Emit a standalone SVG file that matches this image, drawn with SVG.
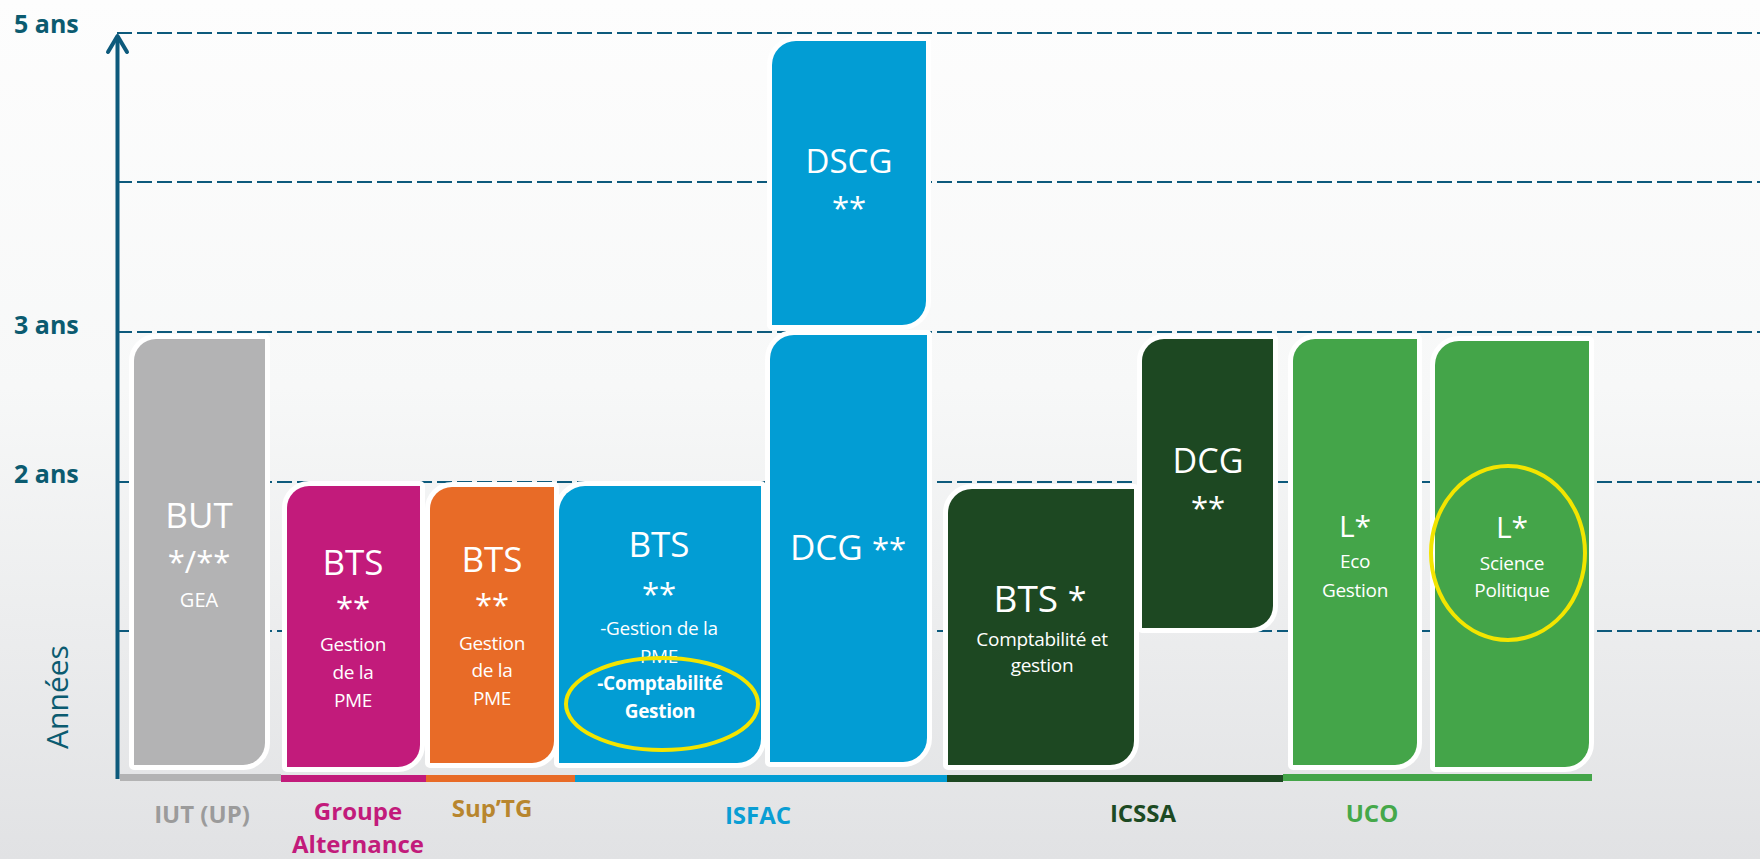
<svg xmlns="http://www.w3.org/2000/svg" width="1760" height="859" viewBox="0 0 1760 859">
<defs>
<linearGradient id="bg" x1="0" y1="0" x2="0" y2="1">
<stop offset="0" stop-color="#fdfdfd"/>
<stop offset="0.45" stop-color="#f7f8f8"/>
<stop offset="1" stop-color="#e1e2e4"/>
</linearGradient>
<clipPath id="pmeclip"><rect x="590" y="640" width="140" height="23"/></clipPath>
</defs>
<style>
.grid{stroke:#0d5a7c;stroke-width:2;stroke-dasharray:15 5;fill:none}
.box{stroke:#fff;stroke-width:10;paint-order:stroke;stroke-linejoin:round}
.t{font-family:"Open Sans","Noto Sans",sans-serif;fill:#fff;text-anchor:middle}
.big{font-size:35px}
.st{font-size:31px}
.sm{font-size:19px;letter-spacing:-0.3px}
.bold{font-weight:bold}
.ax{font-family:"Open Sans","Noto Sans",sans-serif;font-weight:bold;font-size:25px;fill:#0b5b70}
.lab{font-family:"Open Sans","Noto Sans",sans-serif;font-weight:bold;font-size:24px;text-anchor:middle}
.hl{fill:none;stroke:#f3e500;stroke-width:4}
</style>
<rect x="0" y="0" width="1760" height="859" fill="url(#bg)"/>

<g id="grid">
<line class="grid" x1="117" y1="33" x2="1760" y2="33"/>
<line class="grid" x1="117" y1="182" x2="1760" y2="182"/>
<line class="grid" x1="117" y1="332" x2="1760" y2="332"/>
<line class="grid" x1="117" y1="482" x2="1760" y2="482"/>
<line class="grid" x1="117" y1="631" x2="1760" y2="631"/>
</g>

<g id="axis-labels">
<text class="ax" x="14" y="33">5 ans</text>
<text class="ax" x="14" y="334">3 ans</text>
<text class="ax" x="14" y="483">2 ans</text>
<text font-family="Open Sans, Noto Sans, sans-serif" font-size="30" fill="#0b5b70" text-anchor="middle" transform="translate(68 697) rotate(-90)">Années</text>
</g>

<g id="node-but">
<path class="box" fill="#b3b3b4" d="M156 339 H265 V743 A22 22 0 0 1 243 765 H134 V361 A22 22 0 0 1 156 339 Z"/>
<text class="t big" x="199" y="528">BUT</text>
<text class="t st" x="199" y="573">*/**</text>
<text class="t" font-size="20" x="199" y="607">GEA</text>
</g>

<g id="node-bts-groupe">
<path class="box" fill="#c21b7b" d="M309 486 H420 V745 A22 22 0 0 1 398 767 H287 V508 A22 22 0 0 1 309 486 Z"/>
<text class="t big" x="353" y="575">BTS</text>
<text class="t st" x="353" y="619">**</text>
<text class="t sm" x="353" y="651">Gestion</text>
<text class="t sm" x="353" y="679">de la</text>
<text class="t sm" x="353" y="707">PME</text>
</g>

<g id="node-bts-suptg">
<path class="box" fill="#e86b27" d="M452 487 H554 V741 A22 22 0 0 1 532 763 H430 V509 A22 22 0 0 1 452 487 Z"/>
<text class="t big" x="492" y="572">BTS</text>
<text class="t st" x="492" y="616">**</text>
<text class="t sm" x="492" y="650">Gestion</text>
<text class="t sm" x="492" y="677">de la</text>
<text class="t sm" x="492" y="705">PME</text>
</g>

<g id="node-bts-isfac">
<path class="box" fill="#029dd4" d="M585 486 H761 V739 A24 24 0 0 1 737 763 H559 V512 A26 26 0 0 1 585 486 Z"/>
<text class="t big" x="659" y="557">BTS</text>
<text class="t st" x="659" y="605">**</text>
<text class="t sm" x="659" y="635">-Gestion de la</text>
<text class="t sm" x="659" y="663" clip-path="url(#pmeclip)">PME</text>
<text class="t sm bold" x="660" y="690">-Comptabilité</text>
<text class="t sm bold" x="660" y="718">Gestion</text>
<ellipse class="hl" cx="662" cy="704" rx="96" ry="46"/>
</g>

<g id="node-dcg-isfac">
<path class="box" fill="#029dd4" d="M794 335 H927 V738 A24 24 0 0 1 903 762 H770 V359 A24 24 0 0 1 794 335 Z"/>
<text class="t big" x="848" y="560">DCG <tspan font-size="31">**</tspan></text>
</g>

<g id="node-dscg">
<path class="box" fill="#029dd4" d="M796 41 H926 V301 A24 24 0 0 1 902 325 H772 V65 A24 24 0 0 1 796 41 Z"/>
<text class="t" font-size="33" x="849" y="173">DSCG</text>
<text class="t st" x="849" y="219">**</text>
</g>

<g id="node-bts-icssa">
<path class="box" fill="#1d4822" d="M972 489 H1134 V741 A24 24 0 0 1 1110 765 H948 V513 A24 24 0 0 1 972 489 Z"/>
<text class="t" font-size="37" x="1040" y="612">BTS <tspan font-size="34">*</tspan></text>
<text class="t sm" x="1042" y="646">Comptabilité et</text>
<text class="t sm" x="1042" y="672">gestion</text>
</g>

<g id="node-dcg-icssa">
<path class="box" fill="#1d4822" d="M1164 339 H1273 V606 A22 22 0 0 1 1251 628 H1142 V361 A22 22 0 0 1 1164 339 Z"/>
<text class="t" font-size="34" x="1208" y="473">DCG</text>
<text class="t st" x="1208" y="519">**</text>
</g>

<g id="node-l-eco">
<path class="box" fill="#44a549" d="M1315 339 H1417 V743 A22 22 0 0 1 1395 765 H1293 V361 A22 22 0 0 1 1315 339 Z"/>
<text class="t" font-size="30" x="1355" y="537">L*</text>
<text class="t sm" x="1355" y="568">Eco</text>
<text class="t sm" x="1355" y="597">Gestion</text>
</g>

<g id="node-l-scipo">
<path class="box" fill="#44a549" d="M1459 341 H1589 V743 A24 24 0 0 1 1565 767 H1435 V365 A24 24 0 0 1 1459 341 Z"/>
<text class="t" font-size="30" x="1512" y="538">L*</text>
<text class="t sm" x="1512" y="570">Science</text>
<text class="t sm" x="1512" y="597">Politique</text>
<ellipse class="hl" cx="1508" cy="553" rx="77" ry="87"/>
</g>

<g id="connectors">
<line x1="117.5" y1="36" x2="117.5" y2="779" stroke="#0d5a7c" stroke-width="4"/>
<polyline points="108,52 117.5,36 127,52" fill="none" stroke="#0d5a7c" stroke-width="4" stroke-linecap="round" stroke-linejoin="round"/>
<rect x="120" y="774" width="161" height="7" fill="#b3b3b4"/>
<rect x="281" y="775" width="145" height="7" fill="#c21b7b"/>
<rect x="426" y="775" width="149" height="7" fill="#e86b27"/>
<rect x="575" y="775" width="372" height="7" fill="#029dd4"/>
<rect x="947" y="775" width="336" height="7" fill="#1d4822"/>
<rect x="1283" y="774" width="309" height="7" fill="#44a549"/>
</g>

<g id="institution-labels">
<text class="lab" fill="#9b9b9b" x="202" y="823">IUT (UP)</text>
<text class="lab" fill="#c21b7b" x="358" y="820">Groupe</text>
<text class="lab" fill="#c21b7b" x="358" y="853">Alternance</text>
<text class="lab" fill="#b8862e" x="492" y="817">Sup’TG</text>
<text class="lab" fill="#0a9ed4" x="758" y="824">ISFAC</text>
<text class="lab" fill="#1d4a23" x="1143" y="822">ICSSA</text>
<text class="lab" fill="#45a84a" x="1372" y="822">UCO</text>
</g>
</svg>
